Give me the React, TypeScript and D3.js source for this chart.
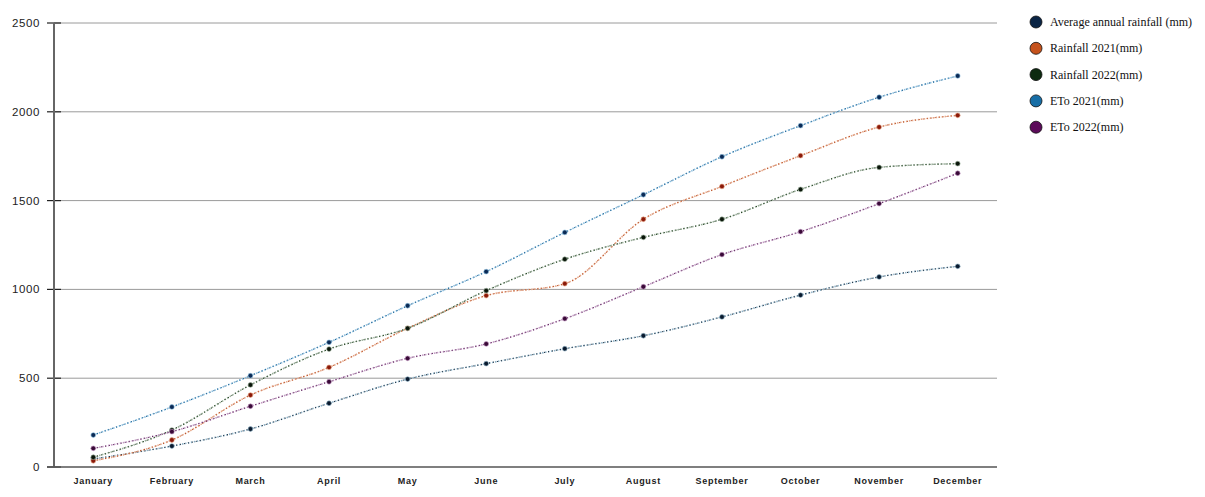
import React from "react";
import * as d3 from "d3";

const months = [
  "January", "February", "March", "April", "May", "June",
  "July", "August", "September", "October", "November", "December",
];

const avgRainfall = [45, 118, 214, 359, 495, 582, 666, 739, 845, 968, 1070, 1130];
const rainfall2021 = [35, 152, 405, 561, 781, 965, 1032, 1395, 1580, 1753, 1914, 1980];
const rainfall2022 = [55, 208, 462, 664, 781, 993, 1170, 1293, 1395, 1563, 1687, 1708];
const eto2021 = [180, 338, 514, 702, 908, 1100, 1321, 1533, 1747, 1922, 2082, 2202];
const eto2022 = [105, 199, 342, 480, 612, 693, 835, 1015, 1196, 1325, 1483, 1654];

const yTicks = [0, 500, 1000, 1500, 2000, 2500];

const series = [
  { name: "Average annual rainfall (mm)", values: avgRainfall, legend: "#0b2545", dot: "#0a1a2e", line: "#8fb3c8", dark: "#1a2a3a" },
  { name: "Rainfall 2021(mm)", values: rainfall2021, legend: "#c5521c", dot: "#8b1a0a", line: "#e8a888", dark: "#b5502a" },
  { name: "Rainfall 2022(mm)", values: rainfall2022, legend: "#0d2b10", dot: "#0a150a", line: "#9ab09a", dark: "#1e3a1e" },
  { name: "ETo 2021(mm)", values: eto2021, legend: "#176ea6", dot: "#0b2a55", line: "#8cc0e0", dark: "#1f5f8f" },
  { name: "ETo 2022(mm)", values: eto2022, legend: "#5c0b5a", dot: "#3a0a38", line: "#c59ac5", dark: "#5a2a5a" },
];

const left = 54;
const right = 997;
const top = 23;
const bottom = 467;

export default function App() {
  const x = d3.scaleBand<string>().domain(months).range([left, right]).padding(0);
  const y = d3.scaleLinear().domain([0, 2500]).range([bottom, top]);
  const cx = (i: number) => (x(months[i]) as number) + x.bandwidth() / 2;

  const line = d3
    .line<number>()
    .x((_, i) => cx(i))
    .y((d) => y(d))
    .curve(d3.curveMonotoneX);

  return (
    <svg
      width={1205}
      height={497}
      style={{ position: "absolute", left: 0, top: 0, background: "#fff" }}
    >
      {/* grid */}
      {yTicks.map((t) => (
        <g key={t}>
          {t > 0 && (
            <line x1={left} x2={right} y1={y(t)} y2={y(t)} stroke="#9a9a9a" strokeWidth={1} />
          )}
          <line x1={47} x2={61} y1={y(t)} y2={y(t)} stroke="#222" strokeWidth={1.2} />
          <text
            x={40}
            y={y(t) + 4}
            textAnchor="end"
            fontFamily="'Liberation Sans', Arial, sans-serif"
            fontSize={11.5}
            letterSpacing={0.6}
            fill="#222"
          >
            {t}
          </text>
        </g>
      ))}

      {/* axes */}
      <line x1={left} x2={left} y1={top} y2={bottom} stroke="#666" strokeWidth={2} />
      <line x1={47} x2={right} y1={bottom} y2={bottom} stroke="#555" strokeWidth={1.5} />

      {months.map((m, i) => (
        <text
          key={m}
          x={cx(i)}
          y={484}
          textAnchor="middle"
          fontFamily="'Liberation Sans', Arial, sans-serif"
          fontSize={9}
          fontWeight={600}
          letterSpacing={0.7}
          fill="#222"
        >
          {m}
        </text>
      ))}

      {/* series */}
      {series.map((s) => (
        <g key={s.name}>
          <path d={line(s.values) ?? ""} fill="none" stroke={s.line} strokeWidth={1.6} strokeDasharray="1.5,1.5" />
          <path d={line(s.values) ?? ""} fill="none" stroke={s.dark} strokeWidth={1.1} strokeDasharray="1,3" />
          {s.values.map((v, i) => (
            <circle key={i} cx={cx(i)} cy={y(v)} r={2.4} fill={s.dot} stroke={s.line} strokeWidth={0.6} />
          ))}
        </g>
      ))}

      {/* legend */}
      {series.map((s, i) => (
        <g key={s.name} transform={`translate(1036, ${22 + i * 26.3})`}>
          <circle r={6} fill={s.legend} stroke="#111" strokeWidth={0.8} />
          <text
            x={14}
            y={4}
            fontFamily="'Liberation Serif', 'Times New Roman', serif"
            fontSize={12}
            fill="#111"
          >
            {s.name}
          </text>
        </g>
      ))}
    </svg>
  );
}
